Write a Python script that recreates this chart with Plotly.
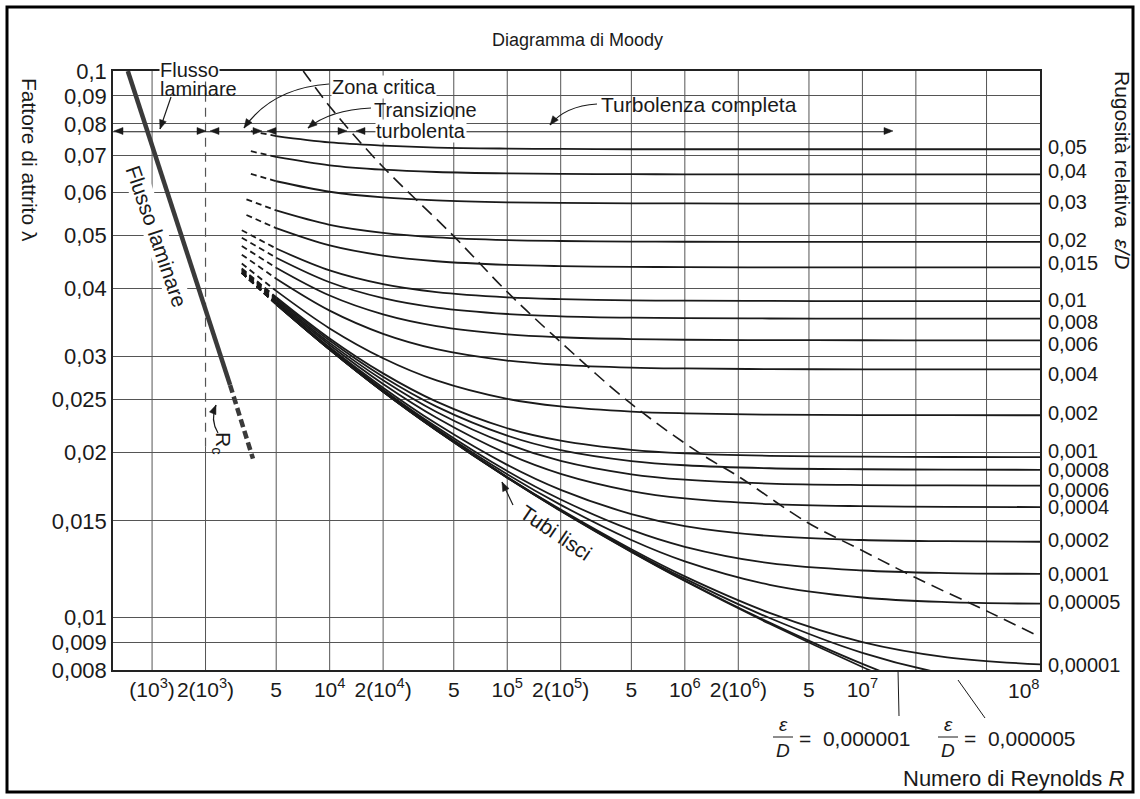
import math
import plotly.graph_objects as go

W, H = 1140, 799
ML, MR, MT, MB = 113, 100, 71, 129
PW, PH = W - ML - MR, H - MT - MB
FONT = "Liberation Sans, Arial, sans-serif"
INK = "#1a1a1a"
GRID = "#555555"


def px(x):
    return (x - ML) / PW


def py(y):
    return (H - MB - y) / PH


# ---------------- data ----------------
re_grid = [5e3, 1e4, 2e4, 4e4, 1e5, 2e5, 5e5, 1e6, 3e6, 1e7, 3e7, 1e8]

eps_labels = ["0,05", "0,04", "0,03", "0,02", "0,015", "0,01", "0,008", "0,006",
              "0,004", "0,002", "0,001", "0,0008", "0,0006", "0,0004", "0,0002",
              "0,0001", "0,00005", "0,00001"]
eps_label_shift = [2, 3, 2, 2, 4, 1, -3, -4, -5, 2, 6, 0, -4, 0, 2, 0, 2, -1]

f_0_05 = [0.0760, 0.0740, 0.0730, 0.0724, 0.0721, 0.0720, 0.0719, 0.0719, 0.0719, 0.0719, 0.0719, 0.0719]
f_0_04 = [0.06962, 0.0672, 0.06596, 0.06532, 0.06493, 0.0648, 0.06472, 0.06469, 0.06467, 0.06467, 0.06467, 0.06467]
f_0_03 = [0.06282, 0.0601, 0.05867, 0.05793, 0.05748, 0.05733, 0.05724, 0.05721, 0.05718, 0.05717, 0.05717, 0.05717]
f_0_02 = [0.05554, 0.05228, 0.05053, 0.0496, 0.04902, 0.04883, 0.04872, 0.04868, 0.04865, 0.04864, 0.04864, 0.04864]
f_0_015 = [0.05154, 0.04792, 0.04591, 0.04483, 0.04415, 0.04392, 0.04378, 0.04374, 0.0437, 0.04369, 0.04369, 0.04369]
f_0_01 = [0.0473, 0.04313, 0.0407, 0.03936, 0.0385, 0.03821, 0.03803, 0.03796, 0.03792, 0.0379, 0.0379, 0.0379]
f_0_008 = [0.0455, 0.04103, 0.03837, 0.03687, 0.03589, 0.03555, 0.03534, 0.03527, 0.03522, 0.0352, 0.0352, 0.0352]
f_0_006 = [0.04363, 0.0388, 0.03584, 0.03411, 0.03295, 0.03254, 0.03229, 0.0322, 0.03215, 0.03213, 0.03212, 0.03212]
f_0_004 = [0.04165, 0.03641, 0.03302, 0.03095, 0.0295, 0.02897, 0.02864, 0.02853, 0.02845, 0.02843, 0.02842, 0.02842]
f_0_002 = [0.03957, 0.03378, 0.02979, 0.02713, 0.0251, 0.02431, 0.02379, 0.02361, 0.02348, 0.02344, 0.02343, 0.02342]
f_0_001 = [0.03852, 0.03237, 0.02794, 0.0248, 0.02217, 0.02104, 0.02024, 0.01994, 0.01974, 0.01967, 0.01964, 0.01963]
f_0_0008 = [0.0383, 0.03209, 0.02755, 0.02429, 0.02149, 0.02022, 0.01931, 0.01897, 0.01873, 0.01865, 0.01862, 0.01861]
f_0_0006 = [0.03808, 0.03178, 0.02715, 0.02375, 0.02075, 0.01932, 0.01826, 0.01785, 0.01756, 0.01745, 0.01742, 0.01741]
f_0_0004 = [0.03784, 0.0315, 0.02673, 0.02318, 0.01991, 0.01829, 0.01701, 0.01649, 0.0161, 0.01596, 0.01592, 0.0159]
f_0_0002 = [0.03762, 0.03119, 0.02631, 0.02259, 0.019, 0.0171, 0.01544, 0.01468, 0.01408, 0.01384, 0.01377, 0.01374]
f_0_0001 = [0.03753, 0.03104, 0.02609, 0.02229, 0.01851, 0.01642, 0.01444, 0.01345, 0.01255, 0.01217, 0.01204, 0.012]
f_0_00005 = [0.03747, 0.03095, 0.02599, 0.02213, 0.01826, 0.01605, 0.01384, 0.01265, 0.01146, 0.01086, 0.01065, 0.01058]
f_0_00001 = [0.03743, 0.03091, 0.02589, 0.02201, 0.01805, 0.01573, 0.01331, 0.01187, 0.01018, 0.009, 0.00844, 0.00819]
f_0_000005 = [0.0374, 0.0309, 0.02588, 0.02199, 0.01802, 0.01568, 0.01323, 0.01176, 0.00996, 0.0086, 0.00786, 0.00747]
f_0_000001 = [0.0374, 0.0309, 0.02587, 0.02198, 0.018, 0.01566, 0.01318, 0.01167, 0.00977, 0.00821, 0.00718, 0.00643]
f_smooth = [0.0374, 0.0309, 0.02587, 0.02197, 0.01799, 0.01564, 0.01316, 0.01164, 0.00972, 0.0081, 0.00695, 0.00594]

# start of each curve (dashed part), Re and lambda
start_re = [3600, 3600, 3600, 3400, 3400, 3200, 3200, 3200, 3200, 3200, 3200,
            3200, 3200, 3200, 3200, 3200, 3200, 3200, 3200, 3200, 3200]
start_f = [0.0776, 0.0713, 0.0648, 0.0582, 0.0545, 0.0511, 0.0495, 0.0478, 0.0461,
           0.0444, 0.0435, 0.0434, 0.0432, 0.0430, 0.0428, 0.0427, 0.0427, 0.0427,
           0.0427, 0.0427, 0.0427]

# laminar flow line
lam_re = [730, 2750]
lam_f = [0.1, 0.0266]
lam_dash_re = [2750, 3700]
lam_dash_f = [0.0266, 0.0195]

# complete-turbulence boundary (dashed)
bound_re = [7.1e3, 1.04e4, 2.0e4, 4.8e4, 1.0e5, 1.8e5, 4.9e5, 1.2e6, 2.0e6, 4.9e6, 9.7e6, 2.0e7, 5.2e7, 1.0e8]
bound_f = [0.1, 0.0848, 0.0667, 0.0505, 0.0394, 0.0329, 0.0247, 0.0200, 0.0181, 0.0149, 0.0133, 0.0118, 0.0102, 0.0092]

# zone dimension line
zone_re = [603, 1.43e7]
zone_f = [0.0774, 0.0774]

# axes
x_ticks = [1e3, 2e3, 5e3, 1e4, 2e4, 5e4, 1e5, 2e5, 5e5, 1e6, 2e6, 5e6, 1e7]
x_labels = ["(10<sup>3</sup>)", "2(10<sup>3</sup>)", "5", "10<sup>4</sup>", "2(10<sup>4</sup>)", "5",
            "10<sup>5</sup>", "2(10<sup>5</sup>)", "5", "10<sup>6</sup>", "2(10<sup>6</sup>)", "5",
            "10<sup>7</sup>"]
x_grid = [1e3, 5e3, 1e4, 2e4, 5e4, 1e5, 2e5, 5e5, 1e6, 2e6, 5e6, 1e7, 2e7, 5e7]
y_ticks = [0.008, 0.009, 0.01, 0.015, 0.02, 0.025, 0.03, 0.04, 0.05, 0.06, 0.07, 0.08, 0.09, 0.1]
y_labels = ["0,008", "0,009", "0,01", "0,015", "0,02", "0,025", "0,03", "0,04", "0,05",
            "0,06", "0,07", "0,08", "0,09", "0,1"]
Y_MIN, Y_MAX = 0.008, 0.1
X_MIN_LOG, X_MAX_LOG = 2.78, 8.0

curves = [f_0_05, f_0_04, f_0_03, f_0_02, f_0_015, f_0_01, f_0_008, f_0_006, f_0_004,
          f_0_002, f_0_001, f_0_0008, f_0_0006, f_0_0004, f_0_0002, f_0_0001, f_0_00005,
          f_0_00001, f_0_000005, f_0_000001, f_smooth]

fig = go.Figure()

# vertical grid lines
for v in x_grid:
    fig.add_trace(go.Scatter(x=[v, v], y=[Y_MIN, Y_MAX], mode="lines",
                             line=dict(color=GRID, width=1), hoverinfo="skip"))
fig.add_trace(go.Scatter(x=[2e3, 2e3], y=[Y_MIN, 0.0205], mode="lines",
                         line=dict(color=GRID, width=1), hoverinfo="skip"))
fig.add_trace(go.Scatter(x=[2e3, 2e3], y=[0.0205, Y_MAX], mode="lines",
                         line=dict(color=GRID, width=1.2, dash="9px,6px"), hoverinfo="skip"))

# zone dimension line
fig.add_trace(go.Scatter(x=zone_re, y=zone_f, mode="lines",
                         line=dict(color=INK, width=1.2), hoverinfo="skip"))

# friction curves
for i, vals in enumerate(curves):
    fig.add_trace(go.Scatter(x=[start_re[i], re_grid[0]], y=[start_f[i], vals[0]], mode="lines",
                             line=dict(color=INK, width=1.8, dash="6px,4px"), hoverinfo="skip"))
    fig.add_trace(go.Scatter(x=re_grid, y=vals, mode="lines",
                             line=dict(color=INK, width=1.8, shape="spline", smoothing=1.0),
                             hoverinfo="skip"))

# laminar line
fig.add_trace(go.Scatter(x=lam_re, y=lam_f, mode="lines",
                         line=dict(color="#3a3a3a", width=4.5), hoverinfo="skip"))
fig.add_trace(go.Scatter(x=lam_dash_re, y=lam_dash_f, mode="lines",
                         line=dict(color="#3a3a3a", width=4.5, dash="8px,4px"), hoverinfo="skip"))

# complete turbulence boundary
fig.add_trace(go.Scatter(x=bound_re, y=bound_f, mode="lines",
                         line=dict(color=INK, width=1.6, dash="13px,7px", shape="spline"),
                         hoverinfo="skip"))

ann = []
shapes = []


def text(x, y, s, size=20, xanchor="left", angle=0, bg=None, yanchor="middle"):
    d = dict(x=px(x), y=py(y), xref="paper", yref="paper", text=s, showarrow=False,
             xanchor=xanchor, yanchor=yanchor, textangle=angle,
             font=dict(family=FONT, size=size, color=INK), borderpad=0)
    if bg:
        d["bgcolor"] = bg
    ann.append(d)


def head(x, y, dx, dy, length=9, half=3.5):
    # filled arrow head with tip at (x, y) px; (dx, dy) points from the tip back toward the tail
    n = math.hypot(dx, dy)
    ux, uy = dx / n, dy / n
    bx, by = x + ux * length, y + uy * length
    c1 = (bx - uy * half, by + ux * half)
    c2 = (bx + uy * half, by - ux * half)
    path = (f"M {px(x)},{py(y)} L {px(c1[0])},{py(c1[1])} "
            f"L {px(c2[0])},{py(c2[1])} Z")
    shapes.append(dict(type="path", xref="paper", yref="paper", path=path,
                       fillcolor=INK, line=dict(color=INK, width=0.5)))


def seg(x0, y0, x1, y1, w=1.2):
    shapes.append(dict(type="line", xref="paper", yref="paper", x0=px(x0), y0=py(y0),
                       x1=px(x1), y1=py(y1), line=dict(color=INK, width=w)))


def curve_path(x0, y0, cx, cy, x1, y1):
    shapes.append(dict(type="path", xref="paper", yref="paper",
                       path=f"M {px(x0)},{py(y0)} Q {px(cx)},{py(cy)} {px(x1)},{py(y1)}",
                       line=dict(color=INK, width=1.2)))
    head(x1, y1, cx - x1, cy - y1)


# titles
text(577, 40, "Diagramma di Moody", size=18, xanchor="center")
text(29, 160, "Fattore di attrito λ", size=21, xanchor="center", angle=90)
text(1123, 170, "Rugosità relativa  <i>ε/D</i>", size=21, xanchor="center", angle=90)
text(1125, 778, "Numero di Reynolds <i>R</i>", size=22, xanchor="right")
text(1041, 689, "10<sup>8</sup>", size=21, xanchor="right")

# right labels at curve ends
for i, lab in enumerate(eps_labels):
    ann.append(dict(x=1.0, y=math.log10(curves[i][-1]), xref="paper", yref="y", text=lab,
                    showarrow=False, xanchor="left", yanchor="middle", xshift=6,
                    yshift=eps_label_shift[i],
                    font=dict(family=FONT, size=20, color=INK)))

# zone labels
text(159, 70, "Flusso", bg="white")
text(159, 89, "laminare")
text(331, 87, "Zona critica", bg="white")
text(373, 110, "Transizione")
text(375, 131, "turbolenta", bg="white")
text(600, 104, "Turbolenza completa", size=21)
text(157, 236, "Flusso laminare", size=21, angle=71, bg="white", xanchor="center")
text(222, 443, "R<sub>c</sub>", size=21, angle=90, xanchor="center")
text(556, 532, "Tubi lisci", size=21, angle=34, xanchor="center")

# dimension-line arrow heads
head(114, 131, 1, 0)
head(206, 131, -1, 0)
head(210, 131, 1, 0)
head(262, 131, -1, 0)
head(267, 131, 1, 0)
head(347, 131, -1, 0)
head(356, 131, 1, 0)
head(893, 131, -1, 0)

# pointer arrows
seg(171, 97, 160, 129)
head(160, 129, 11, -32)
seg(513, 505, 502, 482)
head(502, 482, 11, 23)
curve_path(329, 84, 272, 88, 244, 128)
curve_path(371, 108, 330, 110, 308, 128)
curve_path(597, 104, 565, 106, 550, 125)
curve_path(218, 433, 210, 420, 216, 405)

# bottom labels with fraction bars
for cx, val in [(783, "0,000001"), (948, "0,000005")]:
    text(cx, 724, "<i>ε</i>", size=19, xanchor="center")
    text(cx, 751, "<i>D</i>", size=19, xanchor="center")
    seg(cx - 10, 737, cx + 10, 737, 1)
    text(cx + 15, 738, "=  " + val, size=21)

# leader lines
seg(898, 670, 899, 716, 1)
seg(958, 680, 985, 718, 1)

# outer frame
shapes.append(dict(type="rect", xref="paper", yref="paper", x0=px(7), x1=px(1133),
                   y0=py(792), y1=py(7), line=dict(color="black", width=3)))

fig.update_layout(
    width=W, height=H, margin=dict(l=ML, r=MR, t=MT, b=MB),
    paper_bgcolor="white", plot_bgcolor="white", showlegend=False,
    font=dict(family=FONT, size=20, color=INK),
    xaxis=dict(type="log", range=[X_MIN_LOG, X_MAX_LOG], tickvals=x_ticks, ticktext=x_labels,
               showgrid=False, zeroline=False, showline=True, mirror=True,
               linecolor="#222", linewidth=1.5, ticks="", ticklen=0, ticklabelstandoff=0,
               tickangle=0, tickfont=dict(family=FONT, size=21, color=INK)),
    yaxis=dict(type="log", range=[math.log10(Y_MIN), math.log10(Y_MAX)], tickvals=y_ticks,
               ticktext=y_labels, showgrid=True, gridcolor=GRID, gridwidth=1, zeroline=False,
               showline=True, mirror=True, linecolor="#222", linewidth=1.5, ticks="",
               ticklen=0, ticklabelstandoff=0, tickfont=dict(family=FONT, size=22, color=INK)),
    annotations=ann, shapes=shapes,
)

fig.write_html("out.html", config={"displayModeBar": False},
               post_script="document.body.style.margin='0px';document.body.style.overflow='hidden';")
